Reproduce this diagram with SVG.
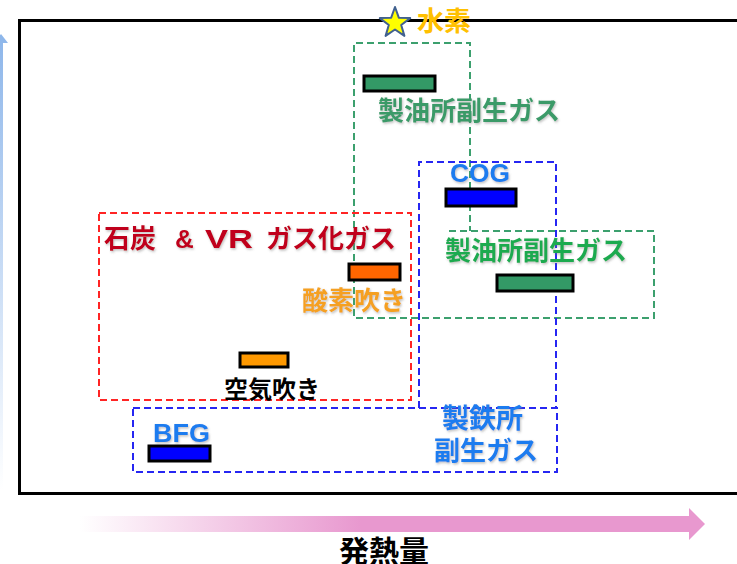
<svg xmlns="http://www.w3.org/2000/svg" width="737" height="564" viewBox="0 0 737 564">
<defs>
<linearGradient id="gx" x1="80" y1="0" x2="705" y2="0" gradientUnits="userSpaceOnUse">
<stop offset="0" stop-color="#ffffff"/>
<stop offset="0.45" stop-color="#E898CF"/>
<stop offset="1" stop-color="#E898CF"/>
</linearGradient>
<linearGradient id="gy" x1="0" y1="33" x2="0" y2="490" gradientUnits="userSpaceOnUse">
<stop offset="0" stop-color="#8DB6EA"/>
<stop offset="1" stop-color="#ffffff"/>
</linearGradient>
<filter id="sh" x="-10%" y="-20%" width="120%" height="150%">
<feDropShadow dx="1" dy="1.5" stdDeviation="1" flood-color="#777" flood-opacity="0.45"/>
</filter>
</defs>
<style>
.t{font-family:"Liberation Sans","Noto Sans CJK JP",sans-serif;font-weight:bold;}
.bar{stroke:#000;stroke-width:3;}
.dash{fill:none;stroke-width:2;stroke-dasharray:7 4;}
</style>
<rect id="frame" x="19.5" y="20.5" width="730" height="473" fill="none" stroke="#000" stroke-width="3"/>
<g id="axes">
<polygon points="-1,490 -1,43 -6,43 1,34 8,43 3,43 3,490" fill="url(#gy)"/>
<polygon points="80,516 689,516 689,508 705,524 689,540 689,532 80,532" fill="url(#gx)"/>
<text class="t" x="339" y="562" font-size="30" fill="#000">発熱量</text>
</g>
<g id="connectors"></g>
<g id="green-region">
<path class="dash" stroke="#3CA06E" d="M449,231 H654 V318 H354 V43 H470 V231"/>
</g>
<g id="red-region">
<rect class="dash" stroke="#FF2424" x="99" y="213" width="312" height="187"/>
</g>
<g id="blue-region">
<path class="dash" stroke="#2626F2" d="M419,408 V162 H556 V408"/>
<rect class="dash" stroke="#2626F2" x="133" y="408" width="424" height="64"/>
</g>
<g id="hydrogen">
<polygon points="395,7 398.8,17.7 410.2,18.1 401.2,25 404.4,35.9 395,29.5 385.6,35.9 388.8,25 379.8,18.1 391.2,17.7" fill="#FFFF00" stroke="#41618F" stroke-width="2" stroke-linejoin="round"/>
<text class="t" x="417" y="31" font-size="27" fill="#FFC000">水素</text>
</g>
<g id="refinery-gas-1">
<rect class="bar" x="364" y="76" width="71" height="15" fill="#339966"/>
<text class="t" x="378" y="120" font-size="26" fill="#3A9A68" filter="url(#sh)">製油所副生ガス</text>
</g>
<g id="cog">
<text class="t" x="450" y="182" font-size="25" fill="#1E7BEF" filter="url(#sh)" textLength="60" lengthAdjust="spacingAndGlyphs">COG</text>
<rect class="bar" x="446" y="189" width="70" height="17" fill="#0000FF"/>
</g>
<g id="refinery-gas-2">
<text class="t" x="445" y="260" font-size="26" fill="#1FAA50" filter="url(#sh)">製油所副生ガス</text>
<rect class="bar" x="497" y="275" width="76" height="16" fill="#339966"/>
</g>
<g id="coal-vr">
<text class="t" font-size="26" fill="#C0001A" filter="url(#sh)" x="104" y="248">石炭</text>
<text class="t" font-size="26" fill="#C0001A" filter="url(#sh)" x="175" y="248">&amp;</text>
<text class="t" font-size="26" fill="#C0001A" filter="url(#sh)" x="205" y="248" textLength="48" lengthAdjust="spacingAndGlyphs">VR</text>
<text class="t" font-size="26" fill="#C0001A" filter="url(#sh)" x="266" y="248">ガス化ガス</text>
</g>
<g id="oxygen-blown">
<rect class="bar" x="349" y="264" width="51" height="16" fill="#FF6600"/>
<text class="t" x="302" y="310" font-size="26" fill="#F5A020" filter="url(#sh)">酸素吹き</text>
</g>
<g id="air-blown">
<rect class="bar" x="240" y="353" width="48" height="14" fill="#FF9900"/>
<text class="t" x="224" y="398" font-size="24" fill="#000">空気吹き</text>
</g>
<g id="bfg">
<text class="t" x="153" y="442" font-size="26" fill="#1E7BEF" filter="url(#sh)" textLength="57" lengthAdjust="spacingAndGlyphs">BFG</text>
<rect class="bar" x="149" y="446" width="61" height="15" fill="#0000FF"/>
</g>
<g id="steel-gas">
<text class="t" x="442" y="428" font-size="27" fill="#1E7BEF" filter="url(#sh)">製鉄所</text>
<text class="t" x="434" y="460" font-size="26" fill="#1E7BEF" filter="url(#sh)">副生ガス</text>
</g>
</svg>
